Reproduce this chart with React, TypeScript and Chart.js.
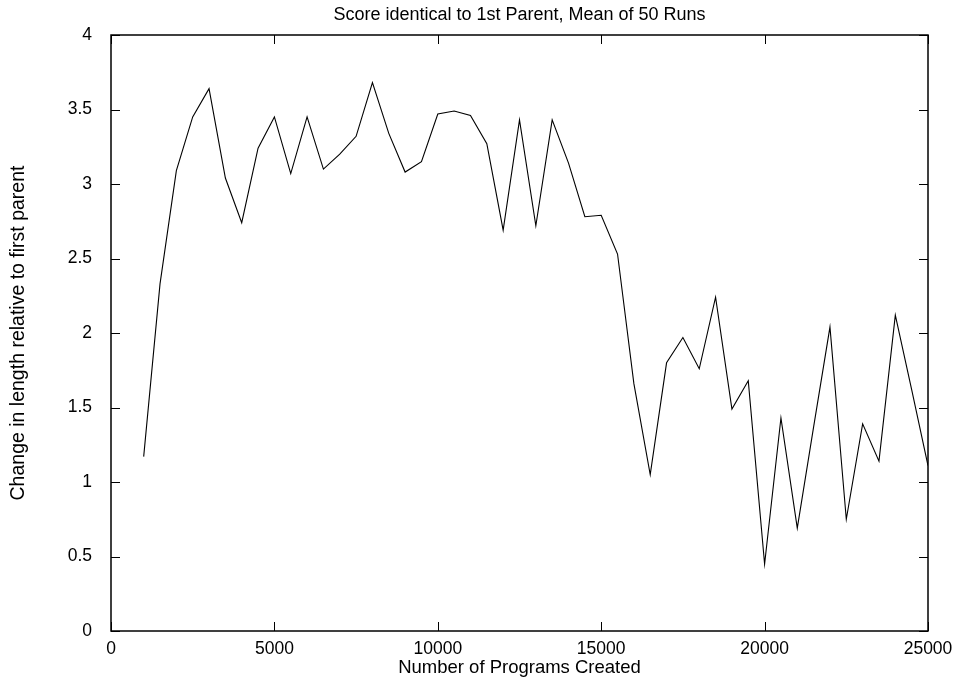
import React, { useEffect, useRef } from "react";
import { Chart, registerables } from "chart.js";

Chart.register(...registerables);

// Programs created (x) and mean change in length relative to the first parent (y)
const programsCreated = [
  1000, 1500, 2000, 2500, 3000, 3500, 4000, 4500, 5000, 5500,
  6000, 6500, 7000, 7500, 8000, 8500, 9000, 9500, 10000, 10500,
  11000, 11500, 12000, 12500, 13000, 13500, 14000, 14500, 15000, 15500,
  16000, 16500, 17000, 17500, 18000, 18500, 19000, 19500, 20000, 20500,
  21000, 21500, 22000, 22500, 23000, 23500, 24000, 24500, 25000,
];
const lengthChange = [
  1.17, 2.33, 3.09, 3.45, 3.64, 3.04, 2.74, 3.24, 3.45, 3.07,
  3.45, 3.10, 3.20, 3.32, 3.68, 3.34, 3.08, 3.15, 3.47, 3.49,
  3.46, 3.27, 2.69, 3.43, 2.72, 3.43, 3.14, 2.78, 2.79, 2.53,
  1.66, 1.05, 1.80, 1.97, 1.76, 2.24, 1.49, 1.68, 0.45, 1.43,
  0.69, 1.37, 2.04, 0.75, 1.39, 1.14, 2.12, 1.62, 1.11,
];

const xTickValues = [0, 5000, 10000, 15000, 20000, 25000];
const yTickValues = [0, 0.5, 1, 1.5, 2, 2.5, 3, 3.5, 4];

const chartTitle = "Score identical to 1st Parent, Mean of 50 Runs";
const xTitle = "Number of Programs Created";
const yTitle = "Change in length relative to first parent";

const FONT_FAMILY = "'Liberation Sans', Arial, Helvetica, sans-serif";

// Frame around the plot area plus inward-pointing ticks on all four sides
const framePlugin = {
  id: "frameAndTicks",
  afterDatasetsDraw(chart: any) {
    const { ctx, chartArea, scales } = chart;
    const { left, right, top, bottom } = chartArea;
    const tickLen = 9;
    ctx.save();
    ctx.strokeStyle = "#000";
    ctx.lineWidth = 1;
    ctx.beginPath();
    for (const v of xTickValues) {
      const px = Math.round(scales.x.getPixelForValue(v)) + 0.5;
      ctx.moveTo(px, bottom);
      ctx.lineTo(px, bottom - tickLen);
      ctx.moveTo(px, top);
      ctx.lineTo(px, top + tickLen);
    }
    for (const v of yTickValues) {
      const py = Math.round(scales.y.getPixelForValue(v)) + 0.5;
      ctx.moveTo(left, py);
      ctx.lineTo(left + tickLen, py);
      ctx.moveTo(right, py);
      ctx.lineTo(right - tickLen, py);
    }
    ctx.stroke();
    ctx.lineWidth = 1.5;
    ctx.strokeRect(left, top, right - left, bottom - top);
    ctx.restore();
  },
};

export default function App() {
  const canvasRef = useRef<HTMLCanvasElement | null>(null);

  useEffect(() => {
    if (!canvasRef.current) return;
    const tickFont = { family: FONT_FAMILY, size: 17.5 };
    const chart = new Chart(canvasRef.current, {
      type: "line",
      data: {
        datasets: [
          {
            data: programsCreated.map((x, i) => ({ x, y: lengthChange[i] })),
            borderColor: "#000",
            borderWidth: 1.1,
            pointRadius: 0,
            tension: 0,
            fill: false,
          },
        ],
      },
      options: {
        animation: false,
        responsive: false,
        layout: { padding: { left: 0, right: 28, top: 0, bottom: 0 } },
        plugins: {
          legend: { display: false },
          title: { display: false },
          tooltip: { enabled: false },
        },
        scales: {
          x: {
            type: "linear",
            position: "bottom",
            min: 0,
            max: 25000,
            afterBuildTicks: (scale: any) => {
              scale.ticks = xTickValues.map((value) => ({ value }));
            },
            afterFit: (scale: any) => {
              scale.height = 48;
              scale.paddingLeft = 0;
              scale.paddingRight = 0;
            },
            grid: { display: false },
            border: { display: false },
            ticks: {
              color: "#000",
              font: tickFont,
              padding: 0,
              maxRotation: 0,
              autoSkip: false,
              callback: (v: any) => String(v),
            },
            title: {
              display: true,
              text: xTitle,
              color: "#000",
              font: { family: FONT_FAMILY, size: 18.5 },
              padding: { top: 0, bottom: 0 },
            },
          },
          xTop: {
            type: "linear",
            position: "top",
            min: 0,
            max: 25000,
            afterFit: (scale: any) => {
              scale.height = 35;
              scale.paddingLeft = 0;
              scale.paddingRight = 0;
            },
            grid: { display: false },
            border: { display: false },
            ticks: { display: false },
            title: {
              display: true,
              text: chartTitle,
              color: "#000",
              font: { family: FONT_FAMILY, size: 18 },
              padding: { top: 4, bottom: 0 },
            },
          },
          y: {
            type: "linear",
            position: "left",
            min: 0,
            max: 4,
            afterBuildTicks: (scale: any) => {
              scale.ticks = yTickValues.map((value) => ({ value }));
            },
            afterFit: (scale: any) => {
              scale.width = 111;
            },
            grid: { display: false },
            border: { display: false },
            ticks: {
              color: "#000",
              font: tickFont,
              padding: 11,
              autoSkip: false,
              callback: (v: any) => String(v),
            },
            title: {
              display: true,
              text: yTitle,
              color: "#000",
              font: { family: FONT_FAMILY, size: 19.5 },
              padding: { top: 7, bottom: 0 },
            },
          },
        },
      },
      plugins: [framePlugin],
    });
    return () => chart.destroy();
  }, []);

  return (
    <div
      style={{
        position: "fixed",
        left: 0,
        top: 0,
        width: 956,
        height: 679,
        background: "#fff",
      }}
    >
      <canvas ref={canvasRef} width={956} height={679} />
    </div>
  );
}
